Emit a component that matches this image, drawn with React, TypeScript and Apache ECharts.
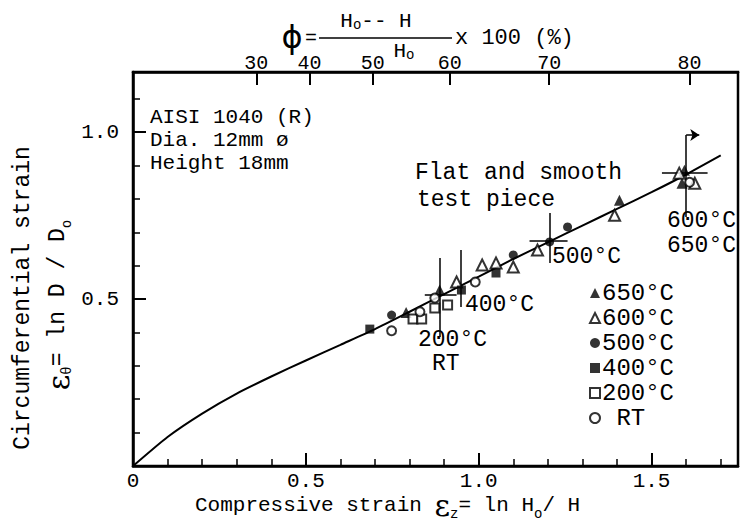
import React, { useEffect, useRef } from 'react';
import * as echarts from 'echarts';

// ---- data ----
const curveX = [0, 0.1, 0.2, 0.3, 0.4, 0.5, 0.6, 0.7, 0.8, 0.9, 1.0, 1.1, 1.2, 1.3, 1.4, 1.5, 1.6, 1.7];
const curveY = [0, 0.087, 0.157, 0.217, 0.268, 0.316, 0.363, 0.41, 0.462, 0.515, 0.567, 0.62, 0.67, 0.72, 0.77, 0.82, 0.873, 0.93];

const t650 = [[0.79, 0.46], [0.887, 0.527], [1.407, 0.796], [1.595, 0.886], [1.588, 0.847]];
const t600 = [[0.936, 0.551], [1.01, 0.602], [1.05, 0.608], [1.1, 0.596], [1.17, 0.647], [1.393, 0.751], [1.58, 0.877], [1.625, 0.847]];
const t500 = [[0.748, 0.452], [1.1, 0.632], [1.205, 0.671], [1.257, 0.716]];
const t400 = [[0.685, 0.41], [0.95, 0.527], [1.05, 0.578]];
const t200 = [[0.81, 0.44], [0.835, 0.44], [0.873, 0.473], [0.91, 0.482]];
const tRT = [[0.748, 0.405], [0.83, 0.462], [0.873, 0.503], [0.99, 0.551], [1.61, 0.85]];

// crosshair segments [x1, y1, x2, y2]
const crossSegs = [
  [0.887, 0.386, 0.887, 0.623],
  [0.844, 0.512, 0.936, 0.512],
  [0.948, 0.476, 0.948, 0.647],
  [1.205, 0.608, 1.205, 0.758],
  [1.147, 0.674, 1.257, 0.674],
  [1.6, 0.746, 1.6, 0.991],
  [1.53, 0.877, 1.662, 0.877],
];
const arrowSeg = [1.6, 0.991, 1.638, 0.991];

const xMajorTicks = [0, 0.5, 1.0, 1.5];
const yMajorTicks = [0.5, 1.0];
const phiTicks = [30, 40, 50, 60, 70, 80];

const legendNames = ['650°C', '600°C', '500°C', '400°C', '200°C', 'RT'];

const FONT = "'Liberation Mono', 'DejaVu Sans Mono', monospace";
const BLACK = '#000';

const phiStrain = phiTicks.map((p) => -Math.log(1 - p / 100));

export default function App() {
  const ref = useRef<HTMLDivElement>(null);

  useEffect(() => {
    if (!ref.current) return;
    const chart = echarts.init(ref.current, null, { renderer: 'svg' });

    const txt = (text: string, x: number, y: number, size = 23, align = 'left', extra: any = {}) => ({
      type: 'text',
      x,
      y,
      style: { text, fill: BLACK, font: `${size}px ${FONT}`, align, verticalAlign: 'middle', ...extra },
      z: 10,
    });

    const richBase = {
      a: { fontFamily: FONT, fontSize: 23, color: BLACK, lineHeight: 32 },
      e: { fontFamily: "'DejaVu Serif', serif", fontSize: 30, color: BLACK, lineHeight: 32 },
      s: { fontFamily: FONT, fontSize: 14, color: BLACK, lineHeight: 14, verticalAlign: 'bottom' },
    };
    const richTitle = { ...richBase, a: { ...richBase.a, fontSize: 21 } };
    const richFrac = { ...richBase, a: { ...richBase.a, fontSize: 21, lineHeight: 22 } };

    const scatterBase = (name: string, data: number[][], symbol: string, size: number) => ({
      name,
      type: 'scatter',
      data,
      symbol,
      symbolSize: size,
      itemStyle: { color: BLACK },
      z: 5,
    });

    const option: any = {
      animation: false,
      backgroundColor: '#fff',
      grid: {
        left: 133,
        right: 11,
        top: 72,
        bottom: 56,
        show: true,
        borderColor: BLACK,
        borderWidth: 2.5,
        backgroundColor: 'transparent',
      },
      xAxis: [
        {
          type: 'value',
          position: 'bottom',
          min: 0,
          max: 1.75,
          interval: 0.5,
          axisLine: { show: true, lineStyle: { color: BLACK, width: 2.5 } },
          axisTick: { show: true, inside: true, length: 13, lineStyle: { color: BLACK, width: 2 } },
          axisLabel: {
            show: true,
            color: BLACK,
            fontFamily: FONT,
            fontSize: 21,
            margin: 5,
            showMaxLabel: false,
            formatter: (v: number) => {
              const m = xMajorTicks.find((t) => Math.abs(t - v) < 1e-6);
              if (m === undefined) return '';
              return m === 0 ? '0' : m.toFixed(1);
            },
          },
          splitLine: { show: false },
        },
        {
          type: 'value',
          position: 'bottom',
          min: 0,
          max: 1.75,
          interval: 0.1,
          axisLine: { show: false },
          axisTick: { show: true, inside: true, length: 7, lineStyle: { color: BLACK, width: 1.5 } },
          axisLabel: { show: false },
          splitLine: { show: false },
        },
        {
          type: 'value',
          position: 'top',
          min: 0,
          max: 1.75,
          axisLine: { show: true, lineStyle: { color: BLACK, width: 2.5 } },
          axisTick: { show: true, inside: true, length: 13, customValues: phiStrain, lineStyle: { color: BLACK, width: 2 } },
          axisLabel: {
            show: true,
            customValues: phiStrain,
            color: BLACK,
            fontFamily: FONT,
            fontSize: 20,
            margin: -1,
            formatter: (v: number) => {
              const i = phiStrain.findIndex((e) => Math.abs(e - v) < 1e-6);
              return i >= 0 ? String(phiTicks[i]) : '';
            },
          },
          splitLine: { show: false },
        },
      ],
      yAxis: [
        {
          type: 'value',
          position: 'left',
          min: 0,
          max: 1.18,
          interval: 0.5,
          axisLine: { show: true, lineStyle: { color: BLACK, width: 2.5 } },
          axisTick: { show: true, inside: true, length: 13, lineStyle: { color: BLACK, width: 2 } },
          axisLabel: {
            show: true,
            color: BLACK,
            fontFamily: FONT,
            fontSize: 21,
            margin: 14,
            showMinLabel: false,
            showMaxLabel: false,
            formatter: (v: number) => {
              const m = yMajorTicks.find((t) => Math.abs(t - v) < 1e-6);
              return m === undefined ? '' : m.toFixed(1);
            },
          },
          splitLine: { show: false },
        },
        {
          type: 'value',
          position: 'left',
          min: 0,
          max: 1.18,
          interval: 0.1,
          axisLine: { show: false },
          axisTick: { show: true, inside: true, length: 7, lineStyle: { color: BLACK, width: 1.5 } },
          axisLabel: { show: false },
          splitLine: { show: false },
        },
      ],
      legend: {
        orient: 'vertical',
        left: 589,
        top: 281,
        padding: 0,
        itemGap: 1,
        itemWidth: 10,
        itemHeight: 10,
        selectedMode: false,
        data: legendNames,
        formatter: (n: string) => (n === 'RT' ? ' RT' : n),
        textStyle: { color: BLACK, fontFamily: FONT, fontSize: 24, lineHeight: 23, padding: [0, 0, 0, -3] },
      },
      series: [
        {
          name: 'curve',
          type: 'line',
          data: curveX.map((x, i) => [x, curveY[i]]),
          smooth: 0.2,
          showSymbol: false,
          symbol: 'none',
          lineStyle: { color: BLACK, width: 2 },
          z: 3,
          markLine: {
            silent: true,
            symbol: ['none', 'none'],
            label: { show: false },
            lineStyle: { color: BLACK, width: 1.5, type: 'solid' },
            data: [
              ...crossSegs.map((s) => [{ coord: [s[0], s[1]] }, { coord: [s[2], s[3]] }]),
              [
                { coord: [arrowSeg[0], arrowSeg[1]], symbol: 'none' },
                { coord: [arrowSeg[2], arrowSeg[3]], symbol: 'arrow', symbolSize: 9 },
              ],
            ],
          },
        },
        scatterBase('650°C', t650, 'triangle', 11),
        scatterBase('600°C', t600, 'emptyTriangle', 11),
        scatterBase('500°C', t500, 'circle', 9),
        scatterBase('400°C', t400, 'rect', 9),
        scatterBase('200°C', t200, 'emptyRect', 9),
        scatterBase('RT', tRT, 'emptyCircle', 9),
      ],
      graphic: [
        txt('AISI 1040 (R)', 150, 117, 21),
        txt('Dia. 12mm ø', 150, 140, 21),
        txt('Height 18mm', 150, 163, 21),
        txt('Flat and smooth', 415, 173),
        txt('test piece', 417, 200),
        txt('500°C', 552, 257),
        txt('600°C', 667, 221),
        txt('650°C', 667, 246),
        txt('400°C', 465, 305),
        txt('200°C', 418, 340),
        txt('RT', 432, 364),
        // top title
        txt('ϕ', 292, 37, 32, 'center', { font: `32px 'DejaVu Sans', sans-serif` }),
        txt('=', 311, 38, 20, 'center'),
        {
          type: 'text',
          x: 376,
          y: 21,
          style: { text: '{a|H}{s|o}{a|-- H}', rich: richFrac, align: 'center', verticalAlign: 'middle' },
          z: 10,
        },
        { type: 'line', shape: { x1: 319, y1: 38, x2: 452, y2: 38 }, style: { stroke: BLACK, lineWidth: 1.5 }, z: 10 },
        {
          type: 'text',
          x: 404,
          y: 51,
          style: { text: '{a|H}{s|o}', rich: richFrac, align: 'center', verticalAlign: 'middle' },
          z: 10,
        },
        txt('x 100 (%)', 455, 38, 22),
        // y-axis title
        {
          type: 'text',
          x: 23,
          y: 298,
          rotation: Math.PI / 2,
          style: { text: 'Circumferential strain', fill: BLACK, font: `23px ${FONT}`, align: 'center', verticalAlign: 'middle' },
          z: 10,
        },
        {
          type: 'text',
          x: 58,
          y: 305,
          rotation: Math.PI / 2,
          style: { text: '{e|ε}{s|θ}{a|= ln D / D}{s|o}', rich: richBase, align: 'center', verticalAlign: 'middle' },
          z: 10,
        },
        // x-axis title
        {
          type: 'text',
          x: 195,
          y: 505,
          style: { text: '{a|Compressive strain }{e|ε}{s|z}{a|= ln H}{s|o}{a|/ H}', rich: richTitle, align: 'left', verticalAlign: 'middle' },
          z: 10,
        },
      ],
    };

    chart.setOption(option);
    return () => chart.dispose();
  }, []);

  return <div ref={ref} style={{ position: 'fixed', left: 0, top: 0, width: 749, height: 522 }} />;
}
